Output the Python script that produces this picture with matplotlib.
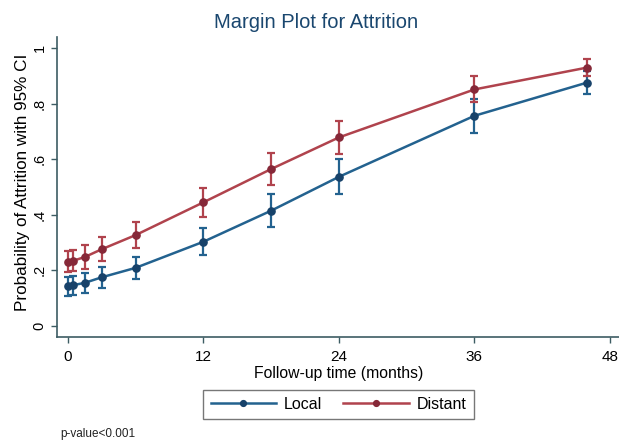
import matplotlib
matplotlib.use("Agg")
import matplotlib.pyplot as plt
import numpy as np

plt.rcParams['font.family'] = ['Liberation Sans', 'DejaVu Sans']

# Data
months = [0, 0.5, 1.5, 3, 6, 12, 18, 24, 36, 46]
local_p = [0.142, 0.146, 0.154, 0.174, 0.208, 0.302, 0.414, 0.536, 0.756, 0.876]
local_ci = [0.034, 0.034, 0.036, 0.038, 0.040, 0.048, 0.059, 0.063, 0.061, 0.043]
distant_p = [0.230, 0.234, 0.247, 0.275, 0.326, 0.444, 0.564, 0.678, 0.851, 0.930]
distant_ci = [0.038, 0.039, 0.042, 0.043, 0.046, 0.053, 0.057, 0.059, 0.047, 0.032]
x_ticks = [0, 12, 24, 36, 48]
y_ticks = [0, 0.2, 0.4, 0.6, 0.8, 1.0]
y_ticklabels = ['0', '.2', '.4', '.6', '.8', '1']

W, H = 619, 440
fig = plt.figure(figsize=(W / 100, H / 100), dpi=100)
fig.patch.set_facecolor('white')
ax = fig.add_axes([57 / W, (H - 336.7) / H, 562 / W, (336.7 - 37) / H])

local_line = '#23628f'
local_mk = '#17426a'
dist_line = '#b0434d'
dist_mk = '#862838'

ax.errorbar(months, local_p, yerr=local_ci, fmt='none', ecolor=local_line,
            elinewidth=1.6, capsize=3.2, capthick=1.6, zorder=2)
ax.errorbar(months, distant_p, yerr=distant_ci, fmt='none', ecolor=dist_line,
            elinewidth=1.6, capsize=3.2, capthick=1.6, zorder=2)
ax.plot(months, local_p, '-o', color=local_line, mfc=local_mk, mec=local_mk,
        ms=5.2, lw=1.8, label='Local', zorder=3)
ax.plot(months, distant_p, '-o', color=dist_line, mfc=dist_mk, mec=dist_mk,
        ms=5.2, lw=1.8, label='Distant', zorder=3)

ax.set_xlim(-0.95, 48.8)
ax.set_ylim(-0.04, 1.04)
ax.set_xticks(x_ticks)
ax.set_xticklabels([str(t) for t in x_ticks], fontsize=11)
ax.set_yticks(y_ticks)
ax.set_yticklabels(y_ticklabels, rotation=90, va='center', fontsize=10.5)

spine_c = '#3d5c63'
for s in ['top', 'right']:
    ax.spines[s].set_visible(False)
for s in ['left', 'bottom']:
    ax.spines[s].set_color(spine_c)
    ax.spines[s].set_linewidth(1.2)
ax.tick_params(axis='both', direction='out', length=4.5, width=1, color=spine_c)
ax.tick_params(axis='y', pad=3)
ax.tick_params(axis='x', pad=5)

fig.text(316 / W, 1 - 22 / H, 'Margin Plot for Attrition', ha='center', va='center',
         fontsize=14.5, color='#1a476f')
fig.text(339 / W, 1 - 373 / H, 'Follow-up time (months)', ha='center', va='center',
         fontsize=11.3, color='black')
fig.text(23 / W, 1 - 182 / H, 'Probability of Attrition with 95% CI', ha='center',
         va='center', rotation=90, fontsize=12.3, color='black')
fig.text(60 / W, 1 - 434 / H, 'p-value<0.001', ha='left', va='center',
         fontsize=8.5, color='#222222')

leg = fig.legend(loc='center', bbox_to_anchor=(338.5 / W, 1 - 404.5 / H), ncol=2,
                 fontsize=11.5, frameon=True, fancybox=False, handlelength=4.1,
                 handletextpad=0.5, columnspacing=1.3, borderpad=0.45,
                 markerscale=0.8)
leg.get_frame().set_edgecolor('#555555')
leg.get_frame().set_linewidth(1.0)

fig.savefig('out.png', dpi=100, facecolor='white')
